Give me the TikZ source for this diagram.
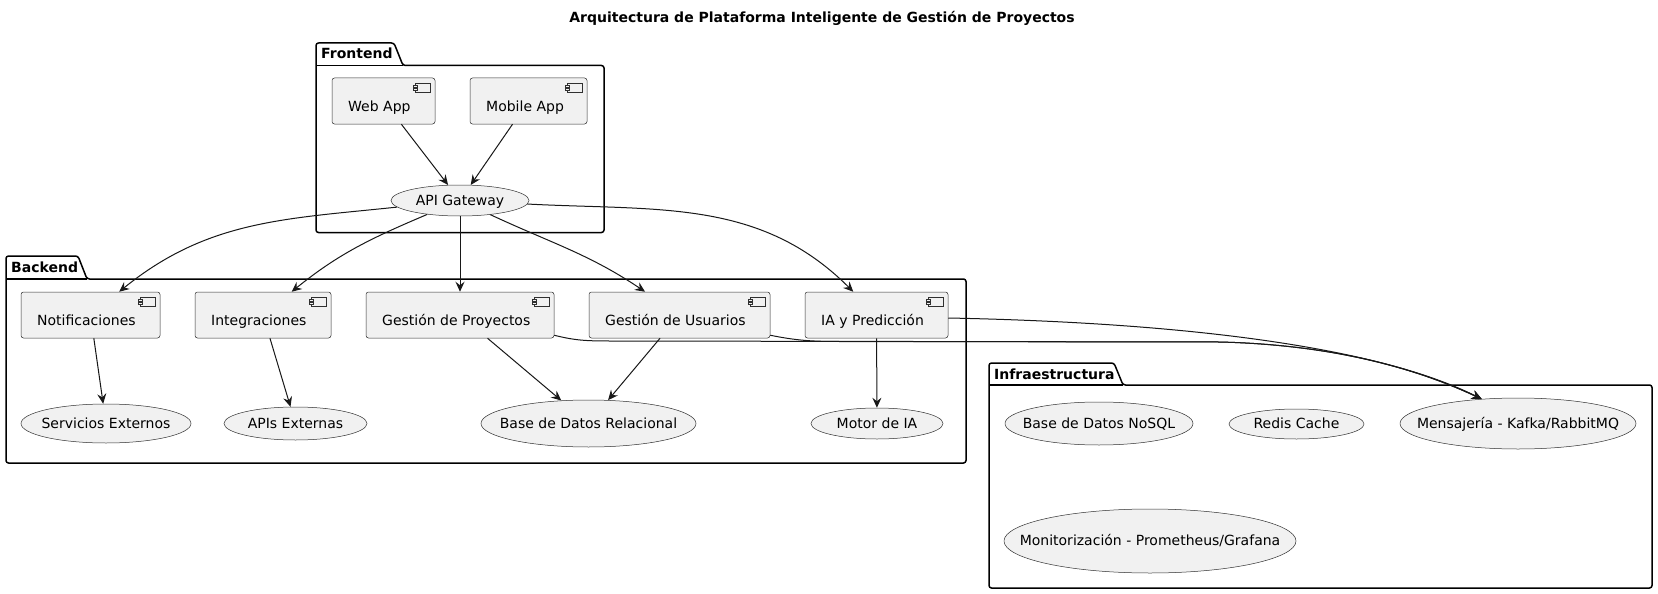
\documentclass[tikz,border=0pt]{standalone}
\usepackage{fontspec}
\setmainfont{DejaVu Sans}
\usetikzlibrary{arrows.meta,shapes.geometric}
\definecolor{fillg}{HTML}{F1F1F1}
\definecolor{edgec}{HTML}{181818}
\definecolor{bordc}{HTML}{303030}

\tikzset{
  comp/.style={draw=bordc, fill=fillg, line width=0.5pt, rounded corners=2.5pt, inner sep=0pt},
  ctext/.style={anchor=base west, inner sep=0pt},
  icon/.style={draw=bordc, fill=fillg, line width=0.4pt},
  ell/.style={ellipse, draw=bordc, fill=fillg, line width=0.5pt, inner sep=0pt},
  etext/.style={anchor=base, inner sep=0pt},
  pkg/.style={draw=black, line width=1.5pt, line join=round},
  ptext/.style={anchor=base west, inner sep=0pt, font=\fontsize{14pt}{16pt}\selectfont\bfseries},
  arr/.style={draw=edgec, line width=1pt, -{Stealth[length=10pt,width=9pt,inset=3.5pt]}},
}

% name, x1, y1, x2, y2, text
\newcommand\mkcomp[6]{%
  \node[comp, minimum width={#4-#2}, minimum height={#5-#3}] (#1) at ({(#2+#4)/2},{(#3+#5)/2}) {};
  \node[ctext] (#1-t) at ({#2+16},{(#3+#5)/2+10.5}) {#6};
  \draw[icon] ({#4-20},{#3+5}) rectangle ({#4-5},{#3+14});
  \draw[icon] ({#4-22},{#3+7}) rectangle ({#4-18},{#3+9});
  \draw[icon] ({#4-22},{#3+10}) rectangle ({#4-18},{#3+12});
}
% name, cx, cy, rx, ry, text
\newcommand\mkell[6]{%
  \node[ell, minimum width={2*#4}, minimum height={2*#5}] (#1) at (#2,#3) {};
  \node[etext] (#1-t) at ([yshift=-4.5pt]#1.center) {#6};
}
% name, x0, tabTop, tabR, frameTop, x1, y1, label
\newcommand\mkpkg[8]{%
  \draw[pkg, rounded corners=2.5pt] ({#4+9},#5) -- (#4,#3) -- (#2,#3) -- (#2,#7) -- (#6,#7) -- (#6,#5) -- cycle;
  \draw[pkg] (#2,#5) -- ({#4+9},#5);
  \node[ptext] (#1) at ({#2+5},{#3+16}) {#8};
}

\begin{document}
\begin{tikzpicture}[x=1pt,y=-1pt,font=\fontsize{14pt}{16pt}\selectfont]
\fill[white] (0,0) rectangle (1658,594);
\useasboundingbox (0,0) rectangle (1658,594);

\node[anchor=base, inner sep=0pt, font=\fontsize{14pt}{16pt}\selectfont\bfseries] (title) at (822,23)
  {Arquitectura de Plataforma Inteligente de Gestión de Proyectos};

% packages
\mkpkg{pfront}{316}{43}{394}{65.5}{604}{232.5}{Frontend}
\mkpkg{pback}{6}{256}{78}{279}{966}{463}{Backend}
\mkpkg{pinfra}{989}{363}{1114}{385}{1652}{588}{Infraestructura}

% components
\mkcomp{web}{332}{78}{435}{124}{Web App}
\mkcomp{mob}{470}{78}{587}{124}{Mobile App}
\mkcomp{nt}{21}{292}{160}{338}{Notificaciones}
\mkcomp{ig}{195}{292}{331}{338}{Integraciones}
\mkcomp{gp}{366}{292}{554}{338}{Gestión de Proyectos}
\mkcomp{gu}{589}{292}{770}{338}{Gestión de Usuarios}
\mkcomp{ia}{805}{292}{948}{338}{IA y Predicción}

% ellipses
\mkell{api}{460}{200.5}{69}{15.5}{API Gateway}
\mkell{se}{106}{423.5}{85}{19.5}{Servicios Externos}
\mkell{ae}{295.5}{423.5}{71.5}{16.5}{APIs Externas}
\mkell{bdr}{588.5}{423.5}{107.5}{23.5}{Base de Datos Relacional}
\mkell{mia}{877}{423.5}{66}{15.5}{Motor de IA}
\mkell{nosql}{1099}{423.5}{94}{21.5}{Base de Datos NoSQL}
\mkell{redis}{1296.5}{424}{67.5}{15}{Redis Cache}
\mkell{ms}{1518}{423.5}{118}{25.5}{Mensajería - Kafka/RabbitMQ}
\mkell{mon}{1150}{541}{146}{32}{Monitorización - Prometheus/Grafana}

% connectors
\draw[arr] (web) -- (api);
\draw[arr] (mob) -- (api);
\draw[arr] (api) to[out=186,in=39] (nt);
\draw[arr] (api) to[out=203,in=39] (ig);
\draw[arr] (api) -- (gp);
\draw[arr] (api) to[out=-25,in=146] (gu);
\draw[arr] (api) to[out=-3,in=135] (ia);
\draw[arr] (nt) -- (se);
\draw[arr] (ig) -- (ae);
\draw[arr] (gp) -- (bdr);
\draw[arr] (gu) -- (bdr);
\draw[arr] (ia) -- (mia);

\coordinate (bus1) at (610,341);
\coordinate (bus2) at (840,341.5);
\coordinate (busR) at (1220,342);
\draw[arr] ([yshift=3pt]gp.south east) .. controls +(20,5) and +(-25,0) .. (bus1) -- (busR)
  .. controls +(120,3) and +(-60,-28) .. (ms.146);
\draw[arr] ([yshift=3pt]gu.south east) .. controls +(25,5) and +(-30,0) .. (bus2) -- (busR)
  .. controls +(120,3) and +(-60,-28) .. (ms.146);
\draw[arr] ([yshift=-3pt]ia.east) .. controls +(250,5) and +(-100,-50) .. (ms.146);
\end{tikzpicture}
\end{document}
